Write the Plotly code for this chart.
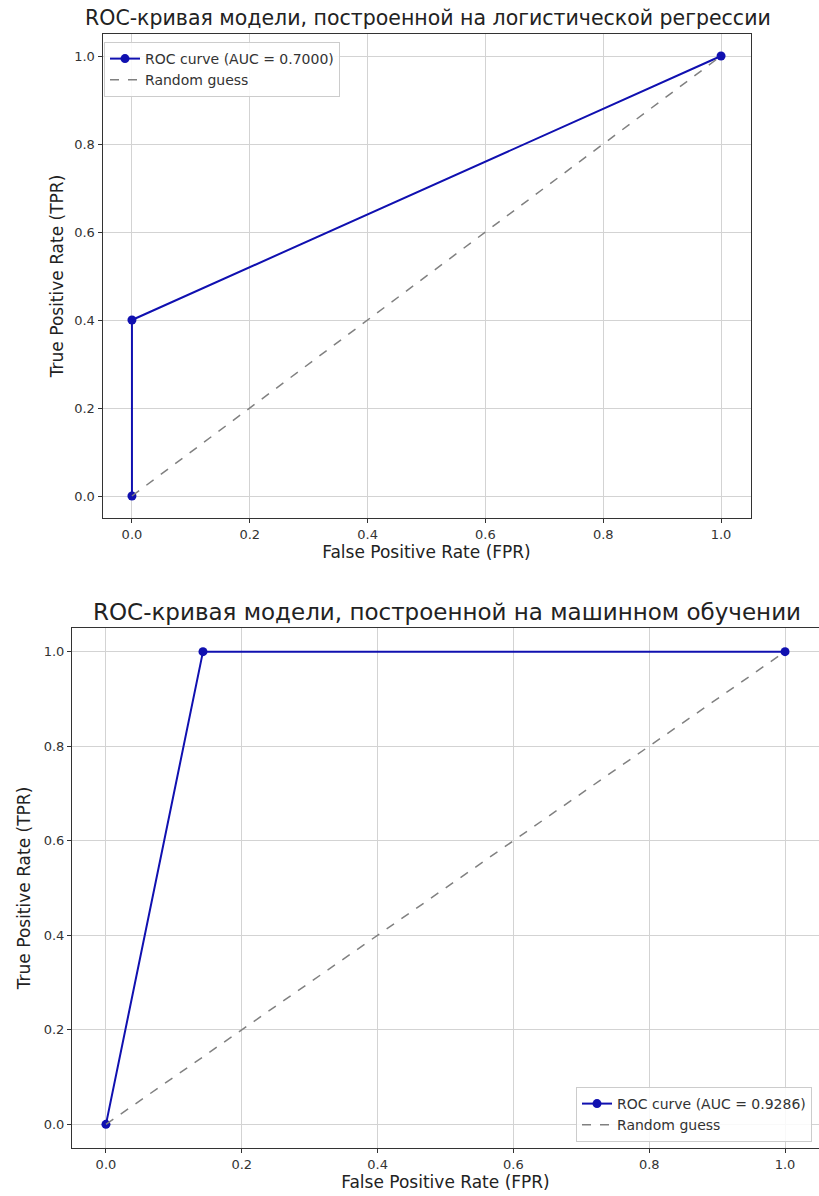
import plotly.graph_objects as go

# Data
fpr_lr = [0.0, 0.0, 1.0]
tpr_lr = [0.0, 0.4, 1.0]
auc_lr = 0.7000
fpr_ml = [0.0, 0.142857, 1.0]
tpr_ml = [0.0, 1.0, 1.0]
auc_ml = 0.9286
diag_x = [0.0, 1.0]
diag_y = [0.0, 1.0]
tick_vals = [0.0, 0.2, 0.4, 0.6, 0.8, 1.0]
tick_text = ["0.0", "0.2", "0.4", "0.6", "0.8", "1.0"]
titles = ["ROC-кривая модели, построенной на логистической регрессии",
          "ROC-кривая модели, построенной на машинном обучении"]

W, H = 819, 1196
FONT = "DejaVu Sans"
ROC_COLOR = "#1010b0"

fig = go.Figure()

fig.add_trace(go.Scatter(x=fpr_lr, y=tpr_lr, mode="lines+markers",
                         name=f"ROC curve (AUC = {auc_lr:.4f})",
                         line=dict(color=ROC_COLOR, width=2),
                         marker=dict(color=ROC_COLOR, size=9),
                         xaxis="x", yaxis="y", legend="legend"))
fig.add_trace(go.Scatter(x=diag_x, y=diag_y, mode="lines", name="Random guess",
                         line=dict(color="gray", width=1.5, dash="dash"),
                         xaxis="x", yaxis="y", legend="legend"))
fig.add_trace(go.Scatter(x=fpr_ml, y=tpr_ml, mode="lines+markers",
                         name=f"ROC curve (AUC = {auc_ml:.4f})",
                         line=dict(color=ROC_COLOR, width=2),
                         marker=dict(color=ROC_COLOR, size=9),
                         xaxis="x2", yaxis="y2", legend="legend2"))
fig.add_trace(go.Scatter(x=diag_x, y=diag_y, mode="lines", name="Random guess",
                         line=dict(color="gray", width=1.5, dash="dash"),
                         xaxis="x2", yaxis="y2", legend="legend2"))

def px_x(p):
    return p / W

def px_y(p):
    return 1 - p / H

axis_common = dict(range=[-0.05, 1.05], tickvals=tick_vals, ticktext=tick_text,
                   showgrid=True, gridcolor="#d3d3d3", gridwidth=1,
                   zeroline=False, showline=True, linecolor="#333333", linewidth=1,
                   mirror=True, ticks="outside", ticklen=4, tickcolor="#333333",
                   tickfont=dict(family=FONT, size=13, color="#333333"))

xt = dict(text="False Positive Rate (FPR)", font=dict(size=17), standoff=5)

fig.update_layout(
    width=W, height=H,
    margin=dict(l=0, r=0, t=0, b=0),
    paper_bgcolor="white", plot_bgcolor="white",
    font=dict(family=FONT, color="#222222"),
    xaxis=dict(domain=[px_x(102.5), px_x(750.5)], anchor="y", title=xt, **axis_common),
    yaxis=dict(domain=[px_y(518), px_y(34)], anchor="x",
               title=dict(text="True Positive Rate (TPR)", font=dict(size=17), standoff=6),
               **axis_common),
    xaxis2=dict(domain=[px_x(72), 1.0], anchor="y2", title=xt, **axis_common),
    yaxis2=dict(domain=[px_y(1148), px_y(628)], anchor="x2",
                title=dict(text="True Positive Rate (TPR)", font=dict(size=17), standoff=8),
                **axis_common),
    legend=dict(x=px_x(104), y=px_y(42), xanchor="left", yanchor="top",
                bgcolor="rgba(255,255,255,0.85)", bordercolor="#cccccc", borderwidth=1,
                font=dict(family=FONT, size=14, color="#333333"),
                tracegroupgap=0, itemwidth=30),
    legend2=dict(x=px_x(812), y=px_y(1142), xanchor="right", yanchor="bottom",
                 bgcolor="rgba(255,255,255,0.85)", bordercolor="#cccccc", borderwidth=1,
                 font=dict(family=FONT, size=14, color="#333333"),
                 tracegroupgap=0, itemwidth=30),
    annotations=[
        dict(text=titles[0], x=px_x(428), y=px_y(18), xref="paper", yref="paper",
             xanchor="center", yanchor="middle", showarrow=False,
             font=dict(family=FONT, size=20.5, color="#222222")),
        dict(text=titles[1], x=px_x(447), y=px_y(612), xref="paper", yref="paper",
             xanchor="center", yanchor="middle", showarrow=False,
             font=dict(family=FONT, size=23, color="#222222")),
    ],
)

fig.write_html("out.html")
